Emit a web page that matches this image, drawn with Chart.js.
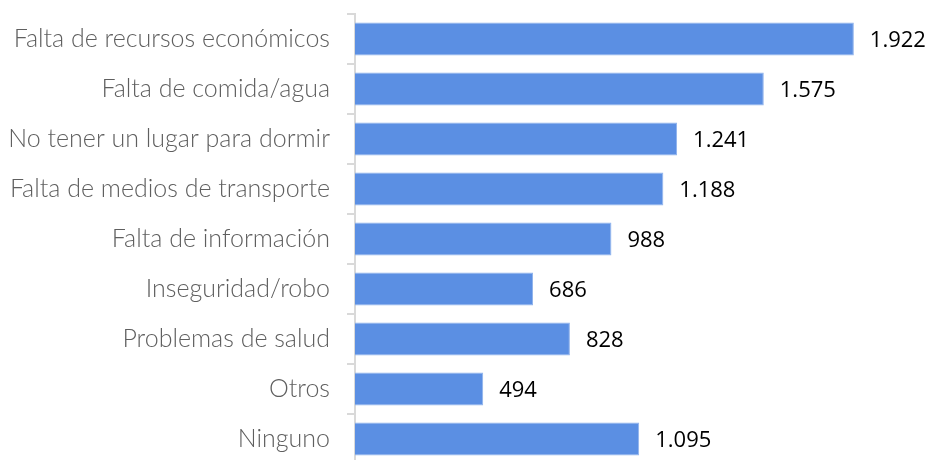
<!DOCTYPE html>
<html>
<head>
<meta charset="utf-8">
<script src="https://cdn.jsdelivr.net/npm/chart.js@4/dist/chart.umd.min.js"></script>
<style>
  html, body { margin: 0; padding: 0; background: #fff; overflow: hidden; }
</style>
</head>
<body>
<canvas id="myChart" width="933" height="464"></canvas>
<script>
var categories = ['Falta de recursos económicos', 'Falta de comida/agua', 'No tener un lugar para dormir',
  'Falta de medios de transporte', 'Falta de información', 'Inseguridad/robo',
  'Problemas de salud', 'Otros', 'Ninguno'];
var values = [1922, 1575, 1241, 1188, 988, 686, 828, 494, 1095];
var valueLabels = ['1.922', '1.575', '1.241', '1.188', '988', '686', '828', '494', '1.095'];

// numbers at the end of each bar
var barLabels = {
  id: 'barLabels',
  afterDatasetsDraw: function(chart) {
    var ctx = chart.ctx;
    var meta = chart.getDatasetMeta(0);
    ctx.save();
    ctx.font = '22px "Open Sans"';
    ctx.fillStyle = '#000';
    ctx.textAlign = 'left';
    ctx.textBaseline = 'middle';
    meta.data.forEach(function(bar, i) {
      ctx.fillText(valueLabels[i], bar.x + 16, bar.y + 2);
    });
    ctx.restore();
  }
};

var myChart = new Chart(document.getElementById('myChart'), {
  type: 'bar',
  data: {
    labels: categories,
    datasets: [{
      data: values,
      backgroundColor: '#5B8FE3',
      borderColor: '#8FB2EC',
      borderWidth: 1,
      barPercentage: 0.66,
      categoryPercentage: 1
    }]
  },
  options: {
    indexAxis: 'y',
    responsive: false,
    animation: false,
    layout: { padding: { top: 14, right: 7, bottom: 0, left: 0 } },
    plugins: { legend: { display: false }, tooltip: { enabled: false } },
    scales: {
      x: { display: false, min: 0, max: 2200 },
      y: {
        afterFit: function(scale) {
          scale.width = 355;
          scale.paddingTop = 0;
          scale.paddingBottom = 0;
        },
        grid: { drawOnChartArea: false, drawTicks: true, tickLength: 8, color: '#d9d9d9', lineWidth: 2 },
        border: { display: true, color: '#d9d9d9', width: 2 },
        ticks: { color: '#5f5f5f', padding: 17, font: { family: 'Lato', size: 25, weight: '300' } }
      }
    }
  },
  plugins: [barLabels]
});
</script>
</body>
</html>
